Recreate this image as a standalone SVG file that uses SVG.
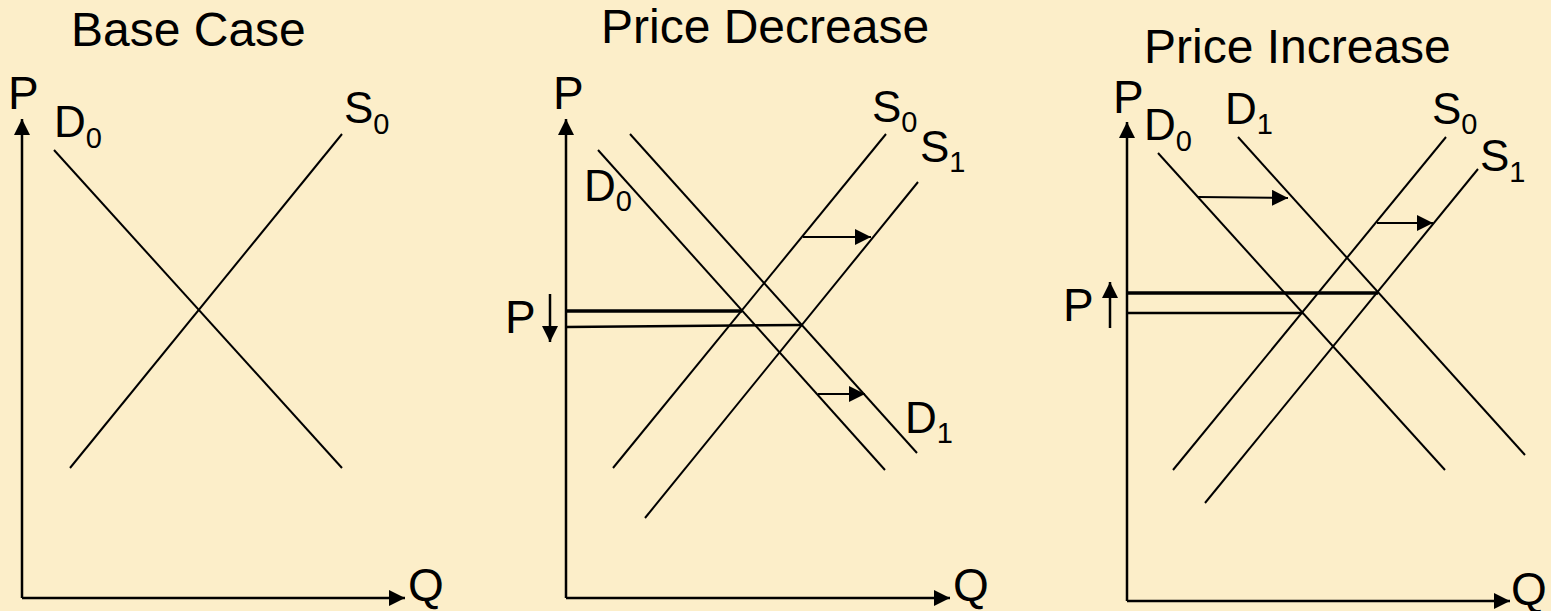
<svg xmlns="http://www.w3.org/2000/svg" width="1551" height="611" viewBox="0 0 1551 611">
<style>
text{font-family:"Liberation Sans",Arial,sans-serif;fill:#000}
.t{font-size:48px}
.a{font-size:46px}
.l{font-size:44px}
.s{font-size:29px}
.ax{stroke:#000;stroke-width:2.5;fill:none}
.c{stroke:#000;stroke-width:2;fill:none}
.h1{stroke:#000;stroke-width:3.5;fill:none}
.h2{stroke:#000;stroke-width:2.5;fill:none}
</style>
<defs>
<marker id="ah" markerUnits="userSpaceOnUse" markerWidth="17" markerHeight="16" refX="16" refY="8" orient="auto" viewBox="0 0 17 16">
<path d="M0,0 L16,8 L0,16 z" fill="#000"/>
</marker>
</defs>
<rect width="1551" height="611" fill="#FCEEC9"/>

<g id="panel-base">
<text class="t" x="71" y="46">Base Case</text>
<path class="ax" d="M22,598 V119" marker-end="url(#ah)"/>
<path class="ax" d="M22,598 H405" marker-end="url(#ah)"/>
<text class="a" x="8" y="109">P</text>
<text class="a" x="408" y="601">Q</text>
<g id="base-lines">
<line class="c" x1="54" y1="150" x2="342" y2="468"/>
<line class="c" x1="342" y1="134" x2="70" y2="468"/>
</g>
<text class="l" x="54" y="137">D<tspan class="s" dy="11">0</tspan></text>
<text class="l" x="344" y="123">S<tspan class="s" dy="11">0</tspan></text>
</g>

<g id="panel-decrease">
<text class="t" x="601" y="43">Price Decrease</text>
<path class="ax" d="M566,598 V119" marker-end="url(#ah)"/>
<path class="ax" d="M566,598 H950" marker-end="url(#ah)"/>
<text class="a" x="553" y="109">P</text>
<text class="a" x="953" y="601">Q</text>
<g id="decrease-lines">
<line class="c" x1="598" y1="150" x2="885" y2="470"/>
<line class="c" x1="630" y1="134" x2="917" y2="453"/>
<line class="c" x1="886" y1="134" x2="613" y2="468"/>
<line class="c" x1="918" y1="182" x2="645" y2="518"/>
<line class="h1" x1="566" y1="311" x2="742" y2="311"/>
<line class="h2" x1="566" y1="327" x2="802" y2="325"/>
<line class="c" x1="803" y1="237" x2="871" y2="237" marker-end="url(#ah)"/>
<line class="c" x1="818" y1="394" x2="865" y2="394" marker-end="url(#ah)"/>
<line class="ax" x1="550" y1="294" x2="550" y2="342" marker-end="url(#ah)"/>
</g>
<text class="a" x="505" y="333">P</text>
<text class="l" x="584" y="201">D<tspan class="s" dy="10">0</tspan></text>
<text class="l" x="905" y="433">D<tspan class="s" dy="10">1</tspan></text>
<text class="l" x="872" y="122">S<tspan class="s" dy="10">0</tspan></text>
<text class="l" x="920" y="162">S<tspan class="s" dy="10">1</tspan></text>
</g>

<g id="panel-increase">
<text class="t" x="1144" y="63">Price Increase</text>
<path class="ax" d="M1127,601 V122" marker-end="url(#ah)"/>
<path class="ax" d="M1127,601 H1510" marker-end="url(#ah)"/>
<text class="a" x="1113" y="113">P</text>
<text class="a" x="1511" y="605">Q</text>
<g id="increase-lines">
<line class="c" x1="1158" y1="153" x2="1445" y2="470"/>
<line class="c" x1="1238" y1="137" x2="1525" y2="455"/>
<line class="c" x1="1446" y1="137" x2="1173" y2="470"/>
<line class="c" x1="1478" y1="169" x2="1205" y2="503"/>
<line class="h1" x1="1127" y1="293" x2="1378" y2="293"/>
<line class="h2" x1="1127" y1="313" x2="1303" y2="313"/>
<line class="c" x1="1198" y1="197" x2="1288" y2="198" marker-end="url(#ah)"/>
<line class="c" x1="1377" y1="223" x2="1433" y2="223" marker-end="url(#ah)"/>
<line class="ax" x1="1110" y1="328" x2="1110" y2="282" marker-end="url(#ah)"/>
</g>
<text class="a" x="1063" y="321">P</text>
<text class="l" x="1144" y="140">D<tspan class="s" dy="11">0</tspan></text>
<text class="l" x="1225" y="124">D<tspan class="s" dy="10">1</tspan></text>
<text class="l" x="1432" y="124">S<tspan class="s" dy="10">0</tspan></text>
<text class="l" x="1480" y="171">S<tspan class="s" dy="11">1</tspan></text>
</g>
</svg>
